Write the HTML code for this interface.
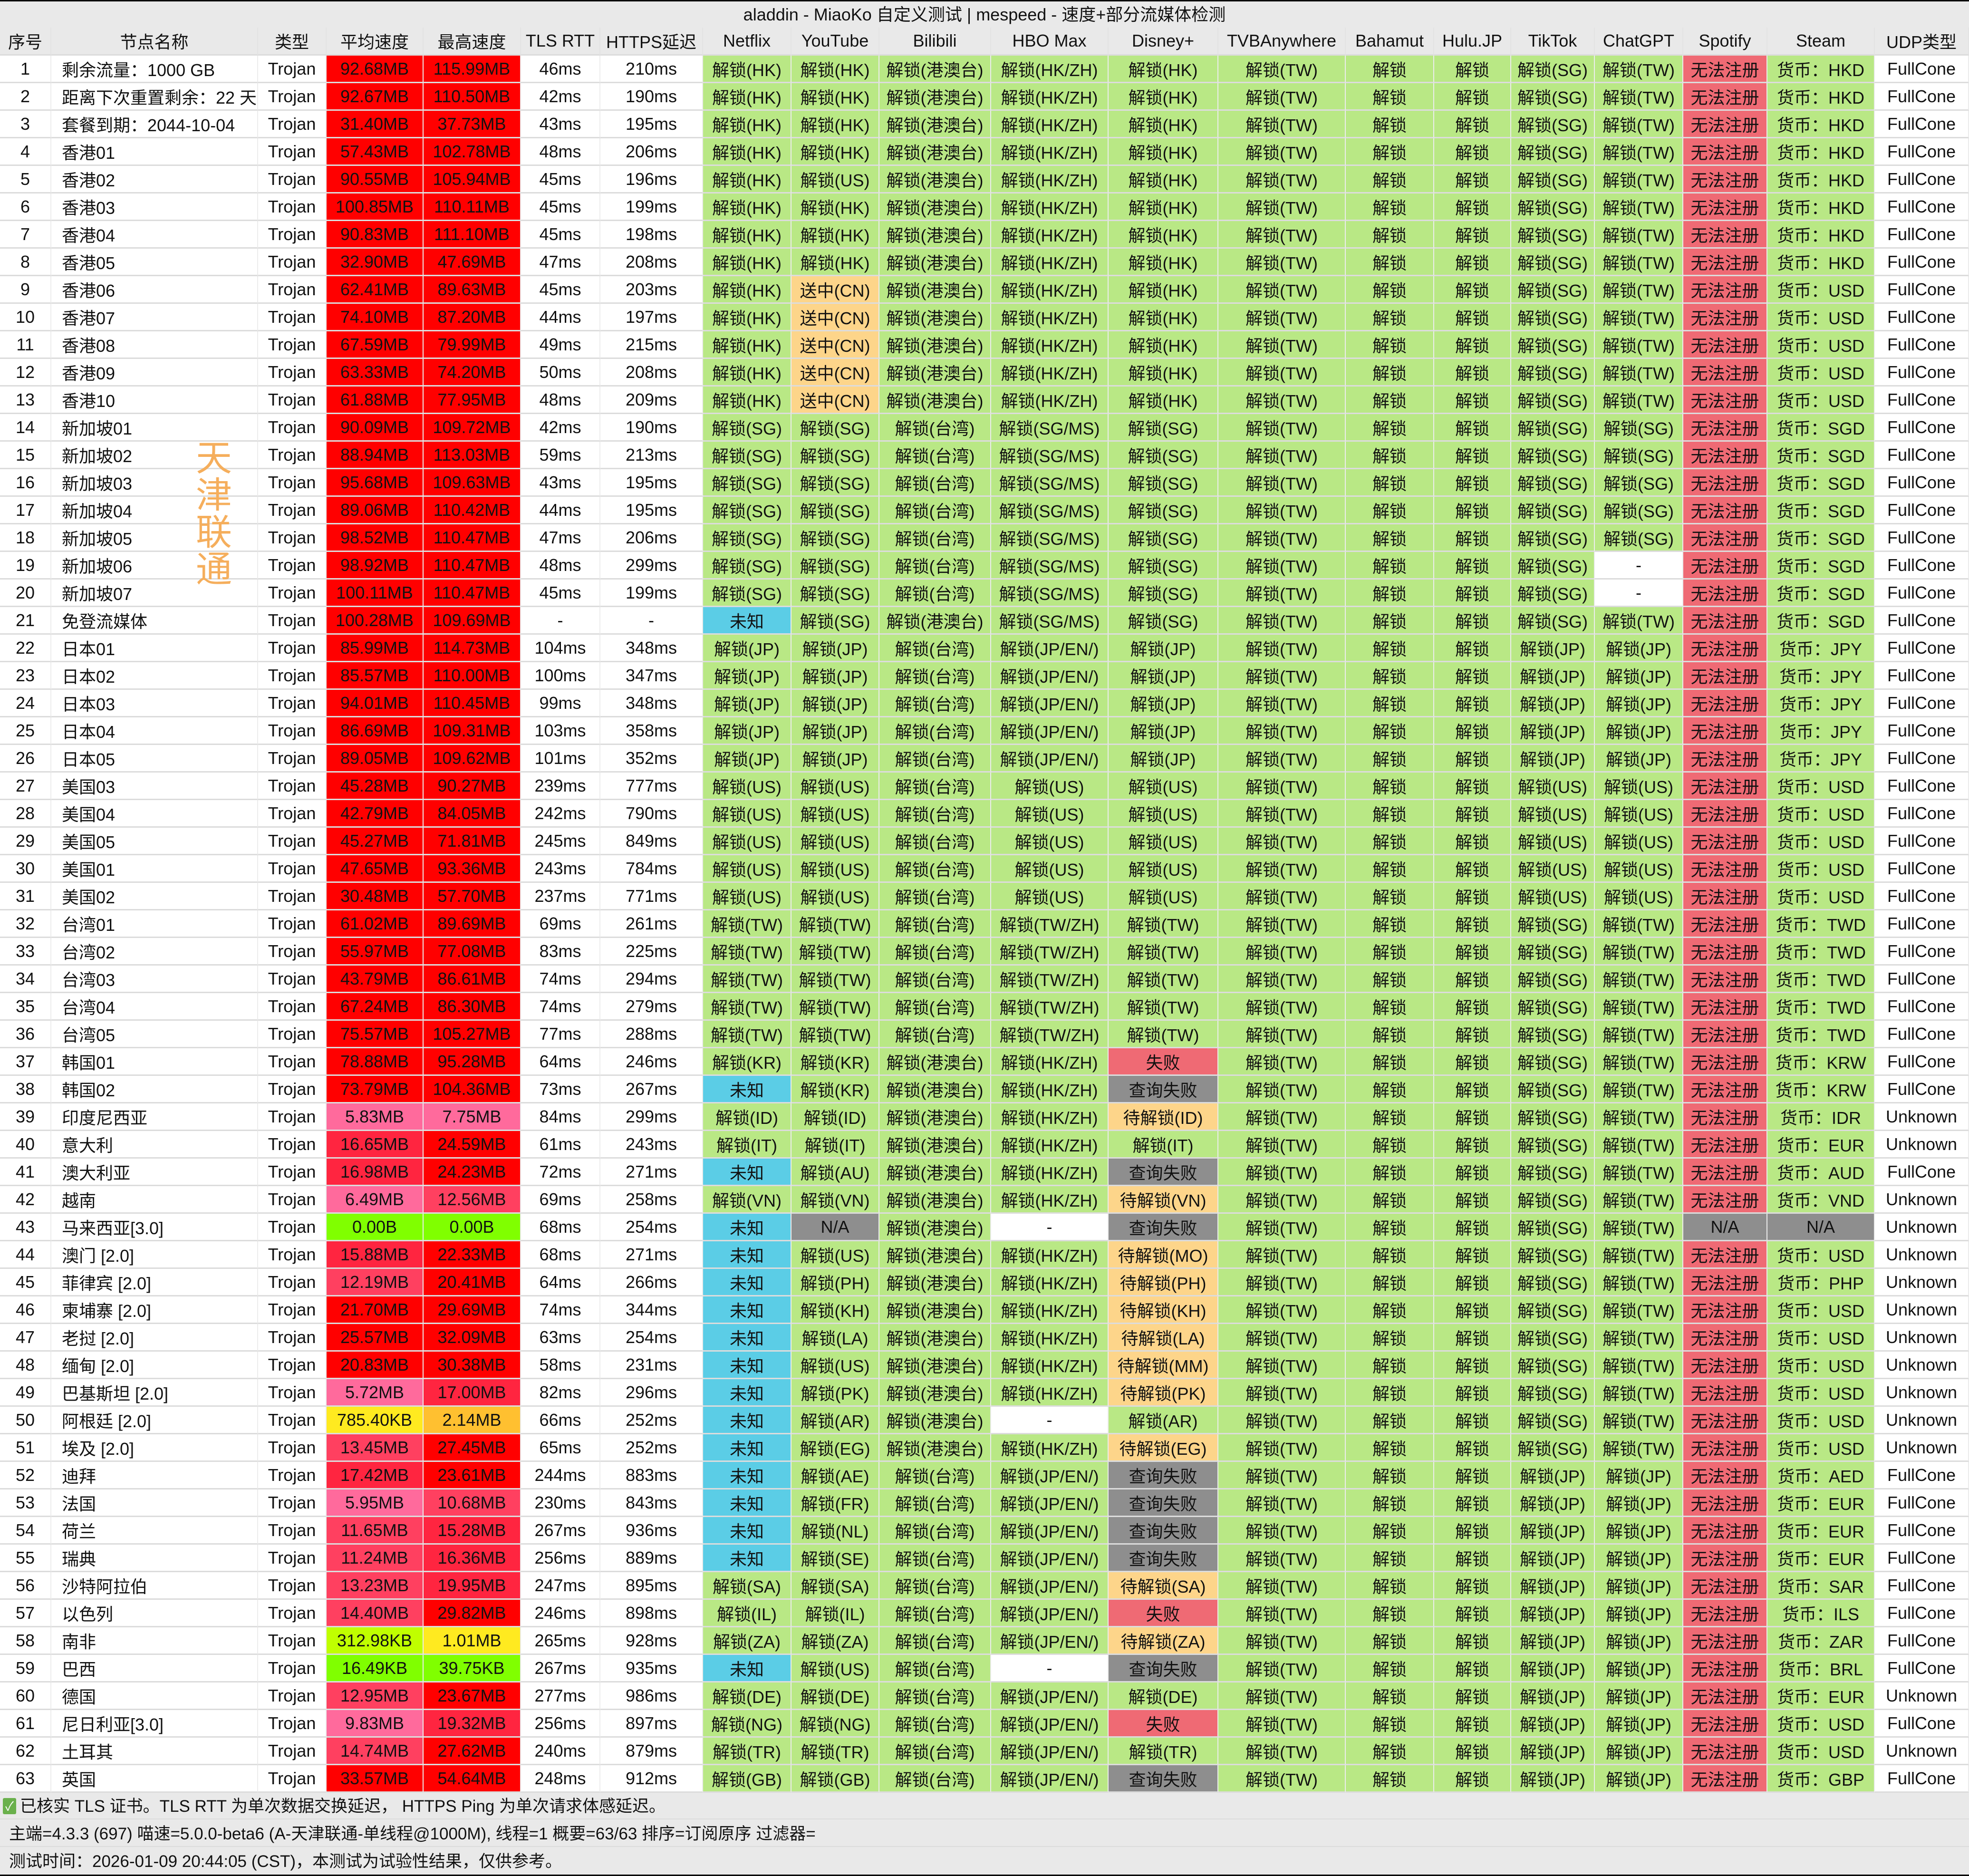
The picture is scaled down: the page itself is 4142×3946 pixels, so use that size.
<!DOCTYPE html>
<html><head><meta charset="utf-8"><style>
html,body{margin:0;padding:0;background:#e9e9e9;}
body{width:4142px;height:3946px;overflow:hidden;position:relative;font-family:"Liberation Sans","Noto Sans CJK SC",sans-serif;color:#111;}
#top{position:absolute;left:0;top:0;width:4142px;height:3px;background:#000;}
#title{position:absolute;left:0;top:0;width:4142px;height:58px;line-height:62px;text-align:center;font-size:36px;background:#e9e9e9;}
table{position:absolute;left:0;top:58px;border-collapse:separate;border-spacing:0;table-layout:fixed;width:4142px;font-size:36px;}
td,th{height:55px;padding:0;text-align:center;white-space:nowrap;overflow:hidden;border-bottom:3px solid #dcdcdc;border-right:2px solid #ececec;background:#fff;font-weight:normal;}
th{background:#e9e9e9;height:56px;border-right:2px solid #e3e3e3;}
td.l,th.l{text-align:left;padding-left:22px;}
th.l{text-align:center;}
.g{background:#b9e885}.b{background:#5bcde6}.o{background:#fdd58a}.y{background:#8e8e8e}.s{background:#ef6a74}
.r0{background:#ff0000}.r1{background:#ff2540}.r2{background:#ff4060}.r3{background:#ff6a9c}.k1{background:#c0ff00}.k2{background:#80ff00}.ye{background:#ffea20}.or{background:#ffc030}
.f{position:absolute;left:0;width:4142px;height:56px;line-height:58px;font-size:35px;padding-left:19px;box-sizing:border-box;border-bottom:2px solid #dcdcdc;background:#e9e9e9;}
#v{position:absolute;left:410px;top:918px;width:80px;font-size:76px;line-height:78px;color:#f5ae5c;font-family:"Noto Sans CJK SC",sans-serif;text-align:center;}
#chk{display:inline-block;width:28px;height:34px;background:#6ab04c;color:#fff;font-size:26px;line-height:34px;text-align:center;border-radius:3px;vertical-align:middle;margin:0 8px 6px 6px;}
</style></head><body>
<div id="title">aladdin - MiaoKo 自定义测试 | mespeed - 速度+部分流媒体检测</div>
<div id="top"></div>
<table>
<colgroup><col style="width:108px"><col style="width:435px"><col style="width:144px"><col style="width:204px"><col style="width:205px"><col style="width:167px"><col style="width:216px"><col style="width:186px"><col style="width:185px"><col style="width:235px"><col style="width:247px"><col style="width:231px"><col style="width:268px"><col style="width:186px"><col style="width:162px"><col style="width:176px"><col style="width:186px"><col style="width:177px"><col style="width:226px"><col style="width:198px"></colgroup>
<tr><th>序号<th>节点名称<th>类型<th>平均速度<th>最高速度<th>TLS RTT<th>HTTPS延迟<th>Netflix<th>YouTube<th>Bilibili<th>HBO Max<th>Disney+<th>TVBAnywhere<th>Bahamut<th>Hulu.JP<th>TikTok<th>ChatGPT<th>Spotify<th>Steam<th>UDP类型</tr>
<tr><td>1<td class=l>剩余流量：1000 GB<td>Trojan<td class=r0>92.68MB<td class=r0>115.99MB<td>46ms<td>210ms<td class=g>解锁(HK)<td class=g>解锁(HK)<td class=g>解锁(港澳台)<td class=g>解锁(HK/ZH)<td class=g>解锁(HK)<td class=g>解锁(TW)<td class=g>解锁<td class=g>解锁<td class=g>解锁(SG)<td class=g>解锁(TW)<td class=s>无法注册<td class=g>货币：HKD<td>FullCone</tr>
<tr><td>2<td class=l>距离下次重置剩余：22 天<td>Trojan<td class=r0>92.67MB<td class=r0>110.50MB<td>42ms<td>190ms<td class=g>解锁(HK)<td class=g>解锁(HK)<td class=g>解锁(港澳台)<td class=g>解锁(HK/ZH)<td class=g>解锁(HK)<td class=g>解锁(TW)<td class=g>解锁<td class=g>解锁<td class=g>解锁(SG)<td class=g>解锁(TW)<td class=s>无法注册<td class=g>货币：HKD<td>FullCone</tr>
<tr><td>3<td class=l>套餐到期：2044-10-04<td>Trojan<td class=r0>31.40MB<td class=r0>37.73MB<td>43ms<td>195ms<td class=g>解锁(HK)<td class=g>解锁(HK)<td class=g>解锁(港澳台)<td class=g>解锁(HK/ZH)<td class=g>解锁(HK)<td class=g>解锁(TW)<td class=g>解锁<td class=g>解锁<td class=g>解锁(SG)<td class=g>解锁(TW)<td class=s>无法注册<td class=g>货币：HKD<td>FullCone</tr>
<tr><td>4<td class=l>香港01<td>Trojan<td class=r0>57.43MB<td class=r0>102.78MB<td>48ms<td>206ms<td class=g>解锁(HK)<td class=g>解锁(HK)<td class=g>解锁(港澳台)<td class=g>解锁(HK/ZH)<td class=g>解锁(HK)<td class=g>解锁(TW)<td class=g>解锁<td class=g>解锁<td class=g>解锁(SG)<td class=g>解锁(TW)<td class=s>无法注册<td class=g>货币：HKD<td>FullCone</tr>
<tr><td>5<td class=l>香港02<td>Trojan<td class=r0>90.55MB<td class=r0>105.94MB<td>45ms<td>196ms<td class=g>解锁(HK)<td class=g>解锁(US)<td class=g>解锁(港澳台)<td class=g>解锁(HK/ZH)<td class=g>解锁(HK)<td class=g>解锁(TW)<td class=g>解锁<td class=g>解锁<td class=g>解锁(SG)<td class=g>解锁(TW)<td class=s>无法注册<td class=g>货币：HKD<td>FullCone</tr>
<tr><td>6<td class=l>香港03<td>Trojan<td class=r0>100.85MB<td class=r0>110.11MB<td>45ms<td>199ms<td class=g>解锁(HK)<td class=g>解锁(HK)<td class=g>解锁(港澳台)<td class=g>解锁(HK/ZH)<td class=g>解锁(HK)<td class=g>解锁(TW)<td class=g>解锁<td class=g>解锁<td class=g>解锁(SG)<td class=g>解锁(TW)<td class=s>无法注册<td class=g>货币：HKD<td>FullCone</tr>
<tr><td>7<td class=l>香港04<td>Trojan<td class=r0>90.83MB<td class=r0>111.10MB<td>45ms<td>198ms<td class=g>解锁(HK)<td class=g>解锁(HK)<td class=g>解锁(港澳台)<td class=g>解锁(HK/ZH)<td class=g>解锁(HK)<td class=g>解锁(TW)<td class=g>解锁<td class=g>解锁<td class=g>解锁(SG)<td class=g>解锁(TW)<td class=s>无法注册<td class=g>货币：HKD<td>FullCone</tr>
<tr><td>8<td class=l>香港05<td>Trojan<td class=r0>32.90MB<td class=r0>47.69MB<td>47ms<td>208ms<td class=g>解锁(HK)<td class=g>解锁(HK)<td class=g>解锁(港澳台)<td class=g>解锁(HK/ZH)<td class=g>解锁(HK)<td class=g>解锁(TW)<td class=g>解锁<td class=g>解锁<td class=g>解锁(SG)<td class=g>解锁(TW)<td class=s>无法注册<td class=g>货币：HKD<td>FullCone</tr>
<tr><td>9<td class=l>香港06<td>Trojan<td class=r0>62.41MB<td class=r0>89.63MB<td>45ms<td>203ms<td class=g>解锁(HK)<td class=o>送中(CN)<td class=g>解锁(港澳台)<td class=g>解锁(HK/ZH)<td class=g>解锁(HK)<td class=g>解锁(TW)<td class=g>解锁<td class=g>解锁<td class=g>解锁(SG)<td class=g>解锁(TW)<td class=s>无法注册<td class=g>货币：USD<td>FullCone</tr>
<tr><td>10<td class=l>香港07<td>Trojan<td class=r0>74.10MB<td class=r0>87.20MB<td>44ms<td>197ms<td class=g>解锁(HK)<td class=o>送中(CN)<td class=g>解锁(港澳台)<td class=g>解锁(HK/ZH)<td class=g>解锁(HK)<td class=g>解锁(TW)<td class=g>解锁<td class=g>解锁<td class=g>解锁(SG)<td class=g>解锁(TW)<td class=s>无法注册<td class=g>货币：USD<td>FullCone</tr>
<tr><td>11<td class=l>香港08<td>Trojan<td class=r0>67.59MB<td class=r0>79.99MB<td>49ms<td>215ms<td class=g>解锁(HK)<td class=o>送中(CN)<td class=g>解锁(港澳台)<td class=g>解锁(HK/ZH)<td class=g>解锁(HK)<td class=g>解锁(TW)<td class=g>解锁<td class=g>解锁<td class=g>解锁(SG)<td class=g>解锁(TW)<td class=s>无法注册<td class=g>货币：USD<td>FullCone</tr>
<tr><td>12<td class=l>香港09<td>Trojan<td class=r0>63.33MB<td class=r0>74.20MB<td>50ms<td>208ms<td class=g>解锁(HK)<td class=o>送中(CN)<td class=g>解锁(港澳台)<td class=g>解锁(HK/ZH)<td class=g>解锁(HK)<td class=g>解锁(TW)<td class=g>解锁<td class=g>解锁<td class=g>解锁(SG)<td class=g>解锁(TW)<td class=s>无法注册<td class=g>货币：USD<td>FullCone</tr>
<tr><td>13<td class=l>香港10<td>Trojan<td class=r0>61.88MB<td class=r0>77.95MB<td>48ms<td>209ms<td class=g>解锁(HK)<td class=o>送中(CN)<td class=g>解锁(港澳台)<td class=g>解锁(HK/ZH)<td class=g>解锁(HK)<td class=g>解锁(TW)<td class=g>解锁<td class=g>解锁<td class=g>解锁(SG)<td class=g>解锁(TW)<td class=s>无法注册<td class=g>货币：USD<td>FullCone</tr>
<tr><td>14<td class=l>新加坡01<td>Trojan<td class=r0>90.09MB<td class=r0>109.72MB<td>42ms<td>190ms<td class=g>解锁(SG)<td class=g>解锁(SG)<td class=g>解锁(台湾)<td class=g>解锁(SG/MS)<td class=g>解锁(SG)<td class=g>解锁(TW)<td class=g>解锁<td class=g>解锁<td class=g>解锁(SG)<td class=g>解锁(SG)<td class=s>无法注册<td class=g>货币：SGD<td>FullCone</tr>
<tr><td>15<td class=l>新加坡02<td>Trojan<td class=r0>88.94MB<td class=r0>113.03MB<td>59ms<td>213ms<td class=g>解锁(SG)<td class=g>解锁(SG)<td class=g>解锁(台湾)<td class=g>解锁(SG/MS)<td class=g>解锁(SG)<td class=g>解锁(TW)<td class=g>解锁<td class=g>解锁<td class=g>解锁(SG)<td class=g>解锁(SG)<td class=s>无法注册<td class=g>货币：SGD<td>FullCone</tr>
<tr><td>16<td class=l>新加坡03<td>Trojan<td class=r0>95.68MB<td class=r0>109.63MB<td>43ms<td>195ms<td class=g>解锁(SG)<td class=g>解锁(SG)<td class=g>解锁(台湾)<td class=g>解锁(SG/MS)<td class=g>解锁(SG)<td class=g>解锁(TW)<td class=g>解锁<td class=g>解锁<td class=g>解锁(SG)<td class=g>解锁(SG)<td class=s>无法注册<td class=g>货币：SGD<td>FullCone</tr>
<tr><td>17<td class=l>新加坡04<td>Trojan<td class=r0>89.06MB<td class=r0>110.42MB<td>44ms<td>195ms<td class=g>解锁(SG)<td class=g>解锁(SG)<td class=g>解锁(台湾)<td class=g>解锁(SG/MS)<td class=g>解锁(SG)<td class=g>解锁(TW)<td class=g>解锁<td class=g>解锁<td class=g>解锁(SG)<td class=g>解锁(SG)<td class=s>无法注册<td class=g>货币：SGD<td>FullCone</tr>
<tr><td>18<td class=l>新加坡05<td>Trojan<td class=r0>98.52MB<td class=r0>110.47MB<td>47ms<td>206ms<td class=g>解锁(SG)<td class=g>解锁(SG)<td class=g>解锁(台湾)<td class=g>解锁(SG/MS)<td class=g>解锁(SG)<td class=g>解锁(TW)<td class=g>解锁<td class=g>解锁<td class=g>解锁(SG)<td class=g>解锁(SG)<td class=s>无法注册<td class=g>货币：SGD<td>FullCone</tr>
<tr><td>19<td class=l>新加坡06<td>Trojan<td class=r0>98.92MB<td class=r0>110.47MB<td>48ms<td>299ms<td class=g>解锁(SG)<td class=g>解锁(SG)<td class=g>解锁(台湾)<td class=g>解锁(SG/MS)<td class=g>解锁(SG)<td class=g>解锁(TW)<td class=g>解锁<td class=g>解锁<td class=g>解锁(SG)<td>-<td class=s>无法注册<td class=g>货币：SGD<td>FullCone</tr>
<tr><td>20<td class=l>新加坡07<td>Trojan<td class=r0>100.11MB<td class=r0>110.47MB<td>45ms<td>199ms<td class=g>解锁(SG)<td class=g>解锁(SG)<td class=g>解锁(台湾)<td class=g>解锁(SG/MS)<td class=g>解锁(SG)<td class=g>解锁(TW)<td class=g>解锁<td class=g>解锁<td class=g>解锁(SG)<td>-<td class=s>无法注册<td class=g>货币：SGD<td>FullCone</tr>
<tr><td>21<td class=l>免登流媒体<td>Trojan<td class=r0>100.28MB<td class=r0>109.69MB<td>-<td>-<td class=b>未知<td class=g>解锁(SG)<td class=g>解锁(港澳台)<td class=g>解锁(SG/MS)<td class=g>解锁(SG)<td class=g>解锁(TW)<td class=g>解锁<td class=g>解锁<td class=g>解锁(SG)<td class=g>解锁(TW)<td class=s>无法注册<td class=g>货币：SGD<td>FullCone</tr>
<tr><td>22<td class=l>日本01<td>Trojan<td class=r0>85.99MB<td class=r0>114.73MB<td>104ms<td>348ms<td class=g>解锁(JP)<td class=g>解锁(JP)<td class=g>解锁(台湾)<td class=g>解锁(JP/EN/)<td class=g>解锁(JP)<td class=g>解锁(TW)<td class=g>解锁<td class=g>解锁<td class=g>解锁(JP)<td class=g>解锁(JP)<td class=s>无法注册<td class=g>货币：JPY<td>FullCone</tr>
<tr><td>23<td class=l>日本02<td>Trojan<td class=r0>85.57MB<td class=r0>110.00MB<td>100ms<td>347ms<td class=g>解锁(JP)<td class=g>解锁(JP)<td class=g>解锁(台湾)<td class=g>解锁(JP/EN/)<td class=g>解锁(JP)<td class=g>解锁(TW)<td class=g>解锁<td class=g>解锁<td class=g>解锁(JP)<td class=g>解锁(JP)<td class=s>无法注册<td class=g>货币：JPY<td>FullCone</tr>
<tr><td>24<td class=l>日本03<td>Trojan<td class=r0>94.01MB<td class=r0>110.45MB<td>99ms<td>348ms<td class=g>解锁(JP)<td class=g>解锁(JP)<td class=g>解锁(台湾)<td class=g>解锁(JP/EN/)<td class=g>解锁(JP)<td class=g>解锁(TW)<td class=g>解锁<td class=g>解锁<td class=g>解锁(JP)<td class=g>解锁(JP)<td class=s>无法注册<td class=g>货币：JPY<td>FullCone</tr>
<tr><td>25<td class=l>日本04<td>Trojan<td class=r0>86.69MB<td class=r0>109.31MB<td>103ms<td>358ms<td class=g>解锁(JP)<td class=g>解锁(JP)<td class=g>解锁(台湾)<td class=g>解锁(JP/EN/)<td class=g>解锁(JP)<td class=g>解锁(TW)<td class=g>解锁<td class=g>解锁<td class=g>解锁(JP)<td class=g>解锁(JP)<td class=s>无法注册<td class=g>货币：JPY<td>FullCone</tr>
<tr><td>26<td class=l>日本05<td>Trojan<td class=r0>89.05MB<td class=r0>109.62MB<td>101ms<td>352ms<td class=g>解锁(JP)<td class=g>解锁(JP)<td class=g>解锁(台湾)<td class=g>解锁(JP/EN/)<td class=g>解锁(JP)<td class=g>解锁(TW)<td class=g>解锁<td class=g>解锁<td class=g>解锁(JP)<td class=g>解锁(JP)<td class=s>无法注册<td class=g>货币：JPY<td>FullCone</tr>
<tr><td>27<td class=l>美国03<td>Trojan<td class=r0>45.28MB<td class=r0>90.27MB<td>239ms<td>777ms<td class=g>解锁(US)<td class=g>解锁(US)<td class=g>解锁(台湾)<td class=g>解锁(US)<td class=g>解锁(US)<td class=g>解锁(TW)<td class=g>解锁<td class=g>解锁<td class=g>解锁(US)<td class=g>解锁(US)<td class=s>无法注册<td class=g>货币：USD<td>FullCone</tr>
<tr><td>28<td class=l>美国04<td>Trojan<td class=r0>42.79MB<td class=r0>84.05MB<td>242ms<td>790ms<td class=g>解锁(US)<td class=g>解锁(US)<td class=g>解锁(台湾)<td class=g>解锁(US)<td class=g>解锁(US)<td class=g>解锁(TW)<td class=g>解锁<td class=g>解锁<td class=g>解锁(US)<td class=g>解锁(US)<td class=s>无法注册<td class=g>货币：USD<td>FullCone</tr>
<tr><td>29<td class=l>美国05<td>Trojan<td class=r0>45.27MB<td class=r0>71.81MB<td>245ms<td>849ms<td class=g>解锁(US)<td class=g>解锁(US)<td class=g>解锁(台湾)<td class=g>解锁(US)<td class=g>解锁(US)<td class=g>解锁(TW)<td class=g>解锁<td class=g>解锁<td class=g>解锁(US)<td class=g>解锁(US)<td class=s>无法注册<td class=g>货币：USD<td>FullCone</tr>
<tr><td>30<td class=l>美国01<td>Trojan<td class=r0>47.65MB<td class=r0>93.36MB<td>243ms<td>784ms<td class=g>解锁(US)<td class=g>解锁(US)<td class=g>解锁(台湾)<td class=g>解锁(US)<td class=g>解锁(US)<td class=g>解锁(TW)<td class=g>解锁<td class=g>解锁<td class=g>解锁(US)<td class=g>解锁(US)<td class=s>无法注册<td class=g>货币：USD<td>FullCone</tr>
<tr><td>31<td class=l>美国02<td>Trojan<td class=r0>30.48MB<td class=r0>57.70MB<td>237ms<td>771ms<td class=g>解锁(US)<td class=g>解锁(US)<td class=g>解锁(台湾)<td class=g>解锁(US)<td class=g>解锁(US)<td class=g>解锁(TW)<td class=g>解锁<td class=g>解锁<td class=g>解锁(US)<td class=g>解锁(US)<td class=s>无法注册<td class=g>货币：USD<td>FullCone</tr>
<tr><td>32<td class=l>台湾01<td>Trojan<td class=r0>61.02MB<td class=r0>89.69MB<td>69ms<td>261ms<td class=g>解锁(TW)<td class=g>解锁(TW)<td class=g>解锁(台湾)<td class=g>解锁(TW/ZH)<td class=g>解锁(TW)<td class=g>解锁(TW)<td class=g>解锁<td class=g>解锁<td class=g>解锁(SG)<td class=g>解锁(TW)<td class=s>无法注册<td class=g>货币：TWD<td>FullCone</tr>
<tr><td>33<td class=l>台湾02<td>Trojan<td class=r0>55.97MB<td class=r0>77.08MB<td>83ms<td>225ms<td class=g>解锁(TW)<td class=g>解锁(TW)<td class=g>解锁(台湾)<td class=g>解锁(TW/ZH)<td class=g>解锁(TW)<td class=g>解锁(TW)<td class=g>解锁<td class=g>解锁<td class=g>解锁(SG)<td class=g>解锁(TW)<td class=s>无法注册<td class=g>货币：TWD<td>FullCone</tr>
<tr><td>34<td class=l>台湾03<td>Trojan<td class=r0>43.79MB<td class=r0>86.61MB<td>74ms<td>294ms<td class=g>解锁(TW)<td class=g>解锁(TW)<td class=g>解锁(台湾)<td class=g>解锁(TW/ZH)<td class=g>解锁(TW)<td class=g>解锁(TW)<td class=g>解锁<td class=g>解锁<td class=g>解锁(SG)<td class=g>解锁(TW)<td class=s>无法注册<td class=g>货币：TWD<td>FullCone</tr>
<tr><td>35<td class=l>台湾04<td>Trojan<td class=r0>67.24MB<td class=r0>86.30MB<td>74ms<td>279ms<td class=g>解锁(TW)<td class=g>解锁(TW)<td class=g>解锁(台湾)<td class=g>解锁(TW/ZH)<td class=g>解锁(TW)<td class=g>解锁(TW)<td class=g>解锁<td class=g>解锁<td class=g>解锁(SG)<td class=g>解锁(TW)<td class=s>无法注册<td class=g>货币：TWD<td>FullCone</tr>
<tr><td>36<td class=l>台湾05<td>Trojan<td class=r0>75.57MB<td class=r0>105.27MB<td>77ms<td>288ms<td class=g>解锁(TW)<td class=g>解锁(TW)<td class=g>解锁(台湾)<td class=g>解锁(TW/ZH)<td class=g>解锁(TW)<td class=g>解锁(TW)<td class=g>解锁<td class=g>解锁<td class=g>解锁(SG)<td class=g>解锁(TW)<td class=s>无法注册<td class=g>货币：TWD<td>FullCone</tr>
<tr><td>37<td class=l>韩国01<td>Trojan<td class=r0>78.88MB<td class=r0>95.28MB<td>64ms<td>246ms<td class=g>解锁(KR)<td class=g>解锁(KR)<td class=g>解锁(港澳台)<td class=g>解锁(HK/ZH)<td class=s>失败<td class=g>解锁(TW)<td class=g>解锁<td class=g>解锁<td class=g>解锁(SG)<td class=g>解锁(TW)<td class=s>无法注册<td class=g>货币：KRW<td>FullCone</tr>
<tr><td>38<td class=l>韩国02<td>Trojan<td class=r0>73.79MB<td class=r0>104.36MB<td>73ms<td>267ms<td class=b>未知<td class=g>解锁(KR)<td class=g>解锁(港澳台)<td class=g>解锁(HK/ZH)<td class=y>查询失败<td class=g>解锁(TW)<td class=g>解锁<td class=g>解锁<td class=g>解锁(SG)<td class=g>解锁(TW)<td class=s>无法注册<td class=g>货币：KRW<td>FullCone</tr>
<tr><td>39<td class=l>印度尼西亚<td>Trojan<td class=r3>5.83MB<td class=r3>7.75MB<td>84ms<td>299ms<td class=g>解锁(ID)<td class=g>解锁(ID)<td class=g>解锁(港澳台)<td class=g>解锁(HK/ZH)<td class=o>待解锁(ID)<td class=g>解锁(TW)<td class=g>解锁<td class=g>解锁<td class=g>解锁(SG)<td class=g>解锁(TW)<td class=s>无法注册<td class=g>货币：IDR<td>Unknown</tr>
<tr><td>40<td class=l>意大利<td>Trojan<td class=r1>16.65MB<td class=r0>24.59MB<td>61ms<td>243ms<td class=g>解锁(IT)<td class=g>解锁(IT)<td class=g>解锁(港澳台)<td class=g>解锁(HK/ZH)<td class=g>解锁(IT)<td class=g>解锁(TW)<td class=g>解锁<td class=g>解锁<td class=g>解锁(SG)<td class=g>解锁(TW)<td class=s>无法注册<td class=g>货币：EUR<td>Unknown</tr>
<tr><td>41<td class=l>澳大利亚<td>Trojan<td class=r1>16.98MB<td class=r0>24.23MB<td>72ms<td>271ms<td class=b>未知<td class=g>解锁(AU)<td class=g>解锁(港澳台)<td class=g>解锁(HK/ZH)<td class=y>查询失败<td class=g>解锁(TW)<td class=g>解锁<td class=g>解锁<td class=g>解锁(SG)<td class=g>解锁(TW)<td class=s>无法注册<td class=g>货币：AUD<td>FullCone</tr>
<tr><td>42<td class=l>越南<td>Trojan<td class=r3>6.49MB<td class=r2>12.56MB<td>69ms<td>258ms<td class=g>解锁(VN)<td class=g>解锁(VN)<td class=g>解锁(港澳台)<td class=g>解锁(HK/ZH)<td class=o>待解锁(VN)<td class=g>解锁(TW)<td class=g>解锁<td class=g>解锁<td class=g>解锁(SG)<td class=g>解锁(TW)<td class=s>无法注册<td class=g>货币：VND<td>Unknown</tr>
<tr><td>43<td class=l>马来西亚[3.0]<td>Trojan<td class=k2>0.00B<td class=k2>0.00B<td>68ms<td>254ms<td class=b>未知<td class=y>N/A<td class=g>解锁(港澳台)<td>-<td class=y>查询失败<td class=g>解锁(TW)<td class=g>解锁<td class=g>解锁<td class=g>解锁(SG)<td class=g>解锁(TW)<td class=y>N/A<td class=y>N/A<td>Unknown</tr>
<tr><td>44<td class=l>澳门 [2.0]<td>Trojan<td class=r1>15.88MB<td class=r0>22.33MB<td>68ms<td>271ms<td class=b>未知<td class=g>解锁(US)<td class=g>解锁(港澳台)<td class=g>解锁(HK/ZH)<td class=o>待解锁(MO)<td class=g>解锁(TW)<td class=g>解锁<td class=g>解锁<td class=g>解锁(SG)<td class=g>解锁(TW)<td class=s>无法注册<td class=g>货币：USD<td>Unknown</tr>
<tr><td>45<td class=l>菲律宾 [2.0]<td>Trojan<td class=r2>12.19MB<td class=r0>20.41MB<td>64ms<td>266ms<td class=b>未知<td class=g>解锁(PH)<td class=g>解锁(港澳台)<td class=g>解锁(HK/ZH)<td class=o>待解锁(PH)<td class=g>解锁(TW)<td class=g>解锁<td class=g>解锁<td class=g>解锁(SG)<td class=g>解锁(TW)<td class=s>无法注册<td class=g>货币：PHP<td>Unknown</tr>
<tr><td>46<td class=l>柬埔寨 [2.0]<td>Trojan<td class=r0>21.70MB<td class=r0>29.69MB<td>74ms<td>344ms<td class=b>未知<td class=g>解锁(KH)<td class=g>解锁(港澳台)<td class=g>解锁(HK/ZH)<td class=o>待解锁(KH)<td class=g>解锁(TW)<td class=g>解锁<td class=g>解锁<td class=g>解锁(SG)<td class=g>解锁(TW)<td class=s>无法注册<td class=g>货币：USD<td>Unknown</tr>
<tr><td>47<td class=l>老挝 [2.0]<td>Trojan<td class=r0>25.57MB<td class=r0>32.09MB<td>63ms<td>254ms<td class=b>未知<td class=g>解锁(LA)<td class=g>解锁(港澳台)<td class=g>解锁(HK/ZH)<td class=o>待解锁(LA)<td class=g>解锁(TW)<td class=g>解锁<td class=g>解锁<td class=g>解锁(SG)<td class=g>解锁(TW)<td class=s>无法注册<td class=g>货币：USD<td>Unknown</tr>
<tr><td>48<td class=l>缅甸 [2.0]<td>Trojan<td class=r0>20.83MB<td class=r0>30.38MB<td>58ms<td>231ms<td class=b>未知<td class=g>解锁(US)<td class=g>解锁(港澳台)<td class=g>解锁(HK/ZH)<td class=o>待解锁(MM)<td class=g>解锁(TW)<td class=g>解锁<td class=g>解锁<td class=g>解锁(SG)<td class=g>解锁(TW)<td class=s>无法注册<td class=g>货币：USD<td>Unknown</tr>
<tr><td>49<td class=l>巴基斯坦 [2.0]<td>Trojan<td class=r3>5.72MB<td class=r1>17.00MB<td>82ms<td>296ms<td class=b>未知<td class=g>解锁(PK)<td class=g>解锁(港澳台)<td class=g>解锁(HK/ZH)<td class=o>待解锁(PK)<td class=g>解锁(TW)<td class=g>解锁<td class=g>解锁<td class=g>解锁(SG)<td class=g>解锁(TW)<td class=s>无法注册<td class=g>货币：USD<td>Unknown</tr>
<tr><td>50<td class=l>阿根廷 [2.0]<td>Trojan<td class=ye>785.40KB<td class=or>2.14MB<td>66ms<td>252ms<td class=b>未知<td class=g>解锁(AR)<td class=g>解锁(港澳台)<td>-<td class=g>解锁(AR)<td class=g>解锁(TW)<td class=g>解锁<td class=g>解锁<td class=g>解锁(SG)<td class=g>解锁(TW)<td class=s>无法注册<td class=g>货币：USD<td>Unknown</tr>
<tr><td>51<td class=l>埃及 [2.0]<td>Trojan<td class=r2>13.45MB<td class=r0>27.45MB<td>65ms<td>252ms<td class=b>未知<td class=g>解锁(EG)<td class=g>解锁(港澳台)<td class=g>解锁(HK/ZH)<td class=o>待解锁(EG)<td class=g>解锁(TW)<td class=g>解锁<td class=g>解锁<td class=g>解锁(SG)<td class=g>解锁(TW)<td class=s>无法注册<td class=g>货币：USD<td>Unknown</tr>
<tr><td>52<td class=l>迪拜<td>Trojan<td class=r1>17.42MB<td class=r0>23.61MB<td>244ms<td>883ms<td class=b>未知<td class=g>解锁(AE)<td class=g>解锁(台湾)<td class=g>解锁(JP/EN/)<td class=y>查询失败<td class=g>解锁(TW)<td class=g>解锁<td class=g>解锁<td class=g>解锁(JP)<td class=g>解锁(JP)<td class=s>无法注册<td class=g>货币：AED<td>FullCone</tr>
<tr><td>53<td class=l>法国<td>Trojan<td class=r3>5.95MB<td class=r2>10.68MB<td>230ms<td>843ms<td class=b>未知<td class=g>解锁(FR)<td class=g>解锁(台湾)<td class=g>解锁(JP/EN/)<td class=y>查询失败<td class=g>解锁(TW)<td class=g>解锁<td class=g>解锁<td class=g>解锁(JP)<td class=g>解锁(JP)<td class=s>无法注册<td class=g>货币：EUR<td>FullCone</tr>
<tr><td>54<td class=l>荷兰<td>Trojan<td class=r2>11.65MB<td class=r1>15.28MB<td>267ms<td>936ms<td class=b>未知<td class=g>解锁(NL)<td class=g>解锁(台湾)<td class=g>解锁(JP/EN/)<td class=y>查询失败<td class=g>解锁(TW)<td class=g>解锁<td class=g>解锁<td class=g>解锁(JP)<td class=g>解锁(JP)<td class=s>无法注册<td class=g>货币：EUR<td>FullCone</tr>
<tr><td>55<td class=l>瑞典<td>Trojan<td class=r2>11.24MB<td class=r1>16.36MB<td>256ms<td>889ms<td class=b>未知<td class=g>解锁(SE)<td class=g>解锁(台湾)<td class=g>解锁(JP/EN/)<td class=y>查询失败<td class=g>解锁(TW)<td class=g>解锁<td class=g>解锁<td class=g>解锁(JP)<td class=g>解锁(JP)<td class=s>无法注册<td class=g>货币：EUR<td>FullCone</tr>
<tr><td>56<td class=l>沙特阿拉伯<td>Trojan<td class=r2>13.23MB<td class=r1>19.95MB<td>247ms<td>895ms<td class=g>解锁(SA)<td class=g>解锁(SA)<td class=g>解锁(台湾)<td class=g>解锁(JP/EN/)<td class=o>待解锁(SA)<td class=g>解锁(TW)<td class=g>解锁<td class=g>解锁<td class=g>解锁(JP)<td class=g>解锁(JP)<td class=s>无法注册<td class=g>货币：SAR<td>FullCone</tr>
<tr><td>57<td class=l>以色列<td>Trojan<td class=r2>14.40MB<td class=r0>29.82MB<td>246ms<td>898ms<td class=g>解锁(IL)<td class=g>解锁(IL)<td class=g>解锁(台湾)<td class=g>解锁(JP/EN/)<td class=s>失败<td class=g>解锁(TW)<td class=g>解锁<td class=g>解锁<td class=g>解锁(JP)<td class=g>解锁(JP)<td class=s>无法注册<td class=g>货币：ILS<td>FullCone</tr>
<tr><td>58<td class=l>南非<td>Trojan<td class=k1>312.98KB<td class=ye>1.01MB<td>265ms<td>928ms<td class=g>解锁(ZA)<td class=g>解锁(ZA)<td class=g>解锁(台湾)<td class=g>解锁(JP/EN/)<td class=o>待解锁(ZA)<td class=g>解锁(TW)<td class=g>解锁<td class=g>解锁<td class=g>解锁(JP)<td class=g>解锁(JP)<td class=s>无法注册<td class=g>货币：ZAR<td>FullCone</tr>
<tr><td>59<td class=l>巴西<td>Trojan<td class=k2>16.49KB<td class=k2>39.75KB<td>267ms<td>935ms<td class=b>未知<td class=g>解锁(US)<td class=g>解锁(台湾)<td>-<td class=y>查询失败<td class=g>解锁(TW)<td class=g>解锁<td class=g>解锁<td class=g>解锁(JP)<td class=g>解锁(JP)<td class=s>无法注册<td class=g>货币：BRL<td>FullCone</tr>
<tr><td>60<td class=l>德国<td>Trojan<td class=r2>12.95MB<td class=r0>23.67MB<td>277ms<td>986ms<td class=g>解锁(DE)<td class=g>解锁(DE)<td class=g>解锁(台湾)<td class=g>解锁(JP/EN/)<td class=g>解锁(DE)<td class=g>解锁(TW)<td class=g>解锁<td class=g>解锁<td class=g>解锁(JP)<td class=g>解锁(JP)<td class=s>无法注册<td class=g>货币：EUR<td>Unknown</tr>
<tr><td>61<td class=l>尼日利亚[3.0]<td>Trojan<td class=r3>9.83MB<td class=r1>19.32MB<td>256ms<td>897ms<td class=g>解锁(NG)<td class=g>解锁(NG)<td class=g>解锁(台湾)<td class=g>解锁(JP/EN/)<td class=s>失败<td class=g>解锁(TW)<td class=g>解锁<td class=g>解锁<td class=g>解锁(JP)<td class=g>解锁(JP)<td class=s>无法注册<td class=g>货币：USD<td>FullCone</tr>
<tr><td>62<td class=l>土耳其<td>Trojan<td class=r2>14.74MB<td class=r0>27.62MB<td>240ms<td>879ms<td class=g>解锁(TR)<td class=g>解锁(TR)<td class=g>解锁(台湾)<td class=g>解锁(JP/EN/)<td class=g>解锁(TR)<td class=g>解锁(TW)<td class=g>解锁<td class=g>解锁<td class=g>解锁(JP)<td class=g>解锁(JP)<td class=s>无法注册<td class=g>货币：USD<td>Unknown</tr>
<tr><td>63<td class=l>英国<td>Trojan<td class=r0>33.57MB<td class=r0>54.64MB<td>248ms<td>912ms<td class=g>解锁(GB)<td class=g>解锁(GB)<td class=g>解锁(台湾)<td class=g>解锁(JP/EN/)<td class=y>查询失败<td class=g>解锁(TW)<td class=g>解锁<td class=g>解锁<td class=g>解锁(JP)<td class=g>解锁(JP)<td class=s>无法注册<td class=g>货币：GBP<td>FullCone</tr>
</table>
<div id="v">天<br>津<br>联<br>通</div>
<div class="f" style="top:3771px;padding-left:0"><span id="chk">✓</span>已核实 TLS 证书。TLS RTT 为单次数据交换延迟， HTTPS Ping 为单次请求体感延迟。</div>
<div class="f" style="top:3829px">主端=4.3.3 (697) 喵速=5.0.0-beta6 (A-天津联通-单线程@1000M), 线程=1 概要=63/63 排序=订阅原序 过滤器=</div>
<div class="f" style="top:3887px;border-bottom:none">测试时间：2026-01-09 20:44:05 (CST)，本测试为试验性结果，仅供参考。</div>
<div style="position:absolute;left:0;top:3943px;width:4142px;height:3px;background:#000"></div>
</body></html>
